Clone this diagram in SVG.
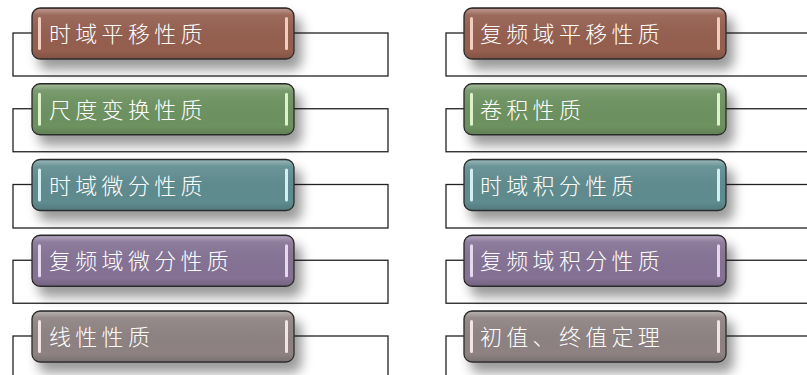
<svg xmlns="http://www.w3.org/2000/svg" width="807" height="375" viewBox="0 0 807 375">
<defs>
<filter id="sh" x="-20%" y="-40%" width="150%" height="220%">
<feGaussianBlur in="SourceAlpha" stdDeviation="6"/>
<feOffset dx="7" dy="10" result="b"/>
<feComponentTransfer><feFuncA type="linear" slope="0.4"/></feComponentTransfer>
<feMerge><feMergeNode/><feMergeNode in="SourceGraphic"/></feMerge>
</filter>
<linearGradient id="gloss" x1="0" y1="0" x2="0" y2="1">
<stop offset="0" stop-color="#fff" stop-opacity="0.35"/>
<stop offset="0.12" stop-color="#fff" stop-opacity="0.08"/>
<stop offset="0.85" stop-color="#000" stop-opacity="0"/>
<stop offset="1" stop-color="#000" stop-opacity="0.12"/>
</linearGradient>
</defs>
<style>
.ln{fill:none;stroke:#222;stroke-width:1.3}
.box{stroke:#2a2a2a;stroke-width:1.3}
.gl{fill:url(#gloss)}
.t{font-family:"Noto Sans CJK SC","Noto Sans",sans-serif;font-size:22px;font-weight:300;letter-spacing:4.3px;fill:#fff}
.br{fill:#955F4F}.gr{fill:#6D9260}.te{fill:#5F8C8F}.pu{fill:#857295}.gy{fill:#8E8282}
.hbr{fill:#f3cdbf}.hgr{fill:#dcf2cc}.hte{fill:#d2f0f2}.hpu{fill:#e4d9ee}.hgy{fill:#f0e4e4}
</style>
<g id="connectors">
<rect class="ln" x="13" y="33" width="375" height="43"/>
<rect class="ln" x="13" y="108.75" width="375" height="43"/>
<rect class="ln" x="13" y="184.5" width="375" height="43.5"/>
<rect class="ln" x="13" y="260.25" width="375" height="43"/>
<rect class="ln" x="13" y="336" width="375" height="60"/>
<rect class="ln" x="446" y="33" width="380" height="43"/>
<rect class="ln" x="446" y="108.75" width="380" height="43"/>
<rect class="ln" x="446" y="184.5" width="380" height="43.5"/>
<rect class="ln" x="446" y="260.25" width="380" height="43"/>
<rect class="ln" x="446" y="336" width="380" height="60"/>
</g>
<g id="n1" transform="translate(32,8)">
<rect class="box br" width="262" height="51" rx="8" filter="url(#sh)"/><rect class="gl" x="1" y="1" width="260" height="49" rx="7"/>
<rect class="hbr" x="6" y="9" width="3" height="33" rx="1.5"/><rect class="hbr" x="253" y="9" width="3" height="33" rx="1.5"/>
<text class="t" x="17" y="34">时域平移性质</text></g>
<g id="n2" transform="translate(32,83.75)">
<rect class="box gr" width="262" height="51" rx="8" filter="url(#sh)"/><rect class="gl" x="1" y="1" width="260" height="49" rx="7"/>
<rect class="hgr" x="6" y="9" width="3" height="33" rx="1.5"/><rect class="hgr" x="253" y="9" width="3" height="33" rx="1.5"/>
<text class="t" x="17" y="34">尺度变换性质</text></g>
<g id="n3" transform="translate(32,159.5)">
<rect class="box te" width="262" height="51" rx="8" filter="url(#sh)"/><rect class="gl" x="1" y="1" width="260" height="49" rx="7"/>
<rect class="hte" x="6" y="9" width="3" height="33" rx="1.5"/><rect class="hte" x="253" y="9" width="3" height="33" rx="1.5"/>
<text class="t" x="17" y="34">时域微分性质</text></g>
<g id="n4" transform="translate(32,235.25)">
<rect class="box pu" width="262" height="51" rx="8" filter="url(#sh)"/><rect class="gl" x="1" y="1" width="260" height="49" rx="7"/>
<rect class="hpu" x="6" y="9" width="3" height="33" rx="1.5"/><rect class="hpu" x="253" y="9" width="3" height="33" rx="1.5"/>
<text class="t" x="17" y="34">复频域微分性质</text></g>
<g id="n5" transform="translate(32,311)">
<rect class="box gy" width="262" height="51" rx="8" filter="url(#sh)"/><rect class="gl" x="1" y="1" width="260" height="49" rx="7"/>
<rect class="hgy" x="6" y="9" width="3" height="33" rx="1.5"/><rect class="hgy" x="253" y="9" width="3" height="33" rx="1.5"/>
<text class="t" x="17" y="34">线性性质</text></g>
<g id="n6" transform="translate(464,8)">
<rect class="box br" width="262" height="51" rx="8" filter="url(#sh)"/><rect class="gl" x="1" y="1" width="260" height="49" rx="7"/>
<rect class="hbr" x="6" y="9" width="3" height="33" rx="1.5"/><rect class="hbr" x="253" y="9" width="3" height="33" rx="1.5"/>
<text class="t" x="16" y="34">复频域平移性质</text></g>
<g id="n7" transform="translate(464,83.75)">
<rect class="box gr" width="262" height="51" rx="8" filter="url(#sh)"/><rect class="gl" x="1" y="1" width="260" height="49" rx="7"/>
<rect class="hgr" x="6" y="9" width="3" height="33" rx="1.5"/><rect class="hgr" x="253" y="9" width="3" height="33" rx="1.5"/>
<text class="t" x="16" y="34">卷积性质</text></g>
<g id="n8" transform="translate(464,159.5)">
<rect class="box te" width="262" height="51" rx="8" filter="url(#sh)"/><rect class="gl" x="1" y="1" width="260" height="49" rx="7"/>
<rect class="hte" x="6" y="9" width="3" height="33" rx="1.5"/><rect class="hte" x="253" y="9" width="3" height="33" rx="1.5"/>
<text class="t" x="16" y="34">时域积分性质</text></g>
<g id="n9" transform="translate(464,235.25)">
<rect class="box pu" width="262" height="51" rx="8" filter="url(#sh)"/><rect class="gl" x="1" y="1" width="260" height="49" rx="7"/>
<rect class="hpu" x="6" y="9" width="3" height="33" rx="1.5"/><rect class="hpu" x="253" y="9" width="3" height="33" rx="1.5"/>
<text class="t" x="16" y="34">复频域积分性质</text></g>
<g id="n10" transform="translate(464,311)">
<rect class="box gy" width="262" height="51" rx="8" filter="url(#sh)"/><rect class="gl" x="1" y="1" width="260" height="49" rx="7"/>
<rect class="hgy" x="6" y="9" width="3" height="33" rx="1.5"/><rect class="hgy" x="253" y="9" width="3" height="33" rx="1.5"/>
<text class="t" x="16" y="34">初值、终值定理</text></g>
</svg>
